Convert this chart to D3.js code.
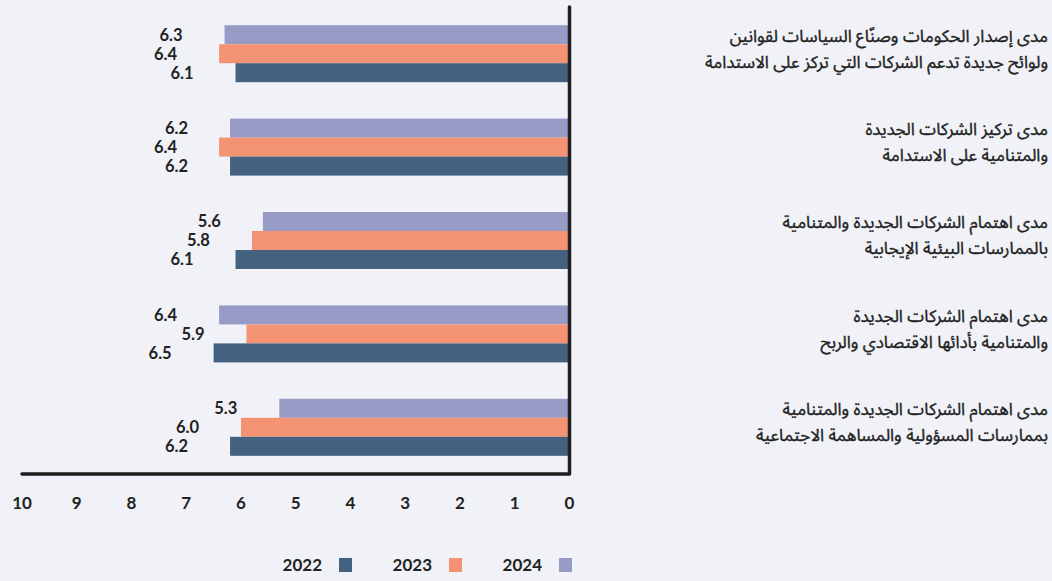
<!DOCTYPE html>
<html>
<head>
<meta charset="utf-8">
<script src="https://cdn.jsdelivr.net/npm/d3@7"></script>
<style>
  body { margin: 0; background: #f0f2f7; }
  svg { display: block; }
  .num { font-family: Lato, "Open Sans", sans-serif; font-weight: 700; fill: #222; }
  .cat { font-family: "Noto Sans Arabic", "DejaVu Sans", sans-serif; fill: #222; stroke: #222; stroke-width: 0.35px; }
</style>
</head>
<body>
<div id="chart"></div>
<script>
const categories = [
    ["مدى إصدار الحكومات وصنّاع السياسات لقوانين", "ولوائح جديدة تدعم الشركات التي تركز على الاستدامة"],
    ["مدى تركيز الشركات الجديدة", "والمتنامية على الاستدامة"],
    ["مدى اهتمام الشركات الجديدة والمتنامية", "بالممارسات البيئية الإيجابية"],
    ["مدى اهتمام الشركات الجديدة", "والمتنامية بأدائها الاقتصادي والربح"],
    ["مدى اهتمام الشركات الجديدة والمتنامية", "بممارسات المسؤولية والمساهمة الاجتماعية"]
];
const years = ["2024", "2023", "2022"];
const values2024 = [6.3, 6.2, 5.6, 6.4, 5.3];
const values2023 = [6.4, 6.4, 5.8, 5.9, 6.0];
const values2022 = [6.1, 6.2, 6.1, 6.5, 6.2];
const xTicks = [0, 1, 2, 3, 4, 5, 6, 7, 8, 9, 10];

const width = 1052, height = 581;
const colors = { "2022": "#44627f", "2023": "#f39374", "2024": "#979bc6" };
const series = { "2024": values2024, "2023": values2023, "2022": values2022 };

const svg = d3.select("#chart").append("svg")
    .attr("width", width)
    .attr("height", height);

const x = d3.scaleLinear().domain([0, 10]).range([569.5, 22]);
const y = d3.scaleBand().domain(d3.range(categories.length)).range([7, 474]);
const barH = 19;
const inner = d3.scaleBand().domain(years)
    .range([y.bandwidth() / 2 - barH * 1.5, y.bandwidth() / 2 + barH * 1.5]);

const group = svg.selectAll(".grp")
    .data(categories)
    .enter().append("g")
    .attr("class", "grp")
    .attr("transform", (d, i) => `translate(0,${y(i)})`);

years.forEach(yr => {
    group.append("rect")
        .attr("x", (d, i) => x(series[yr][i]))
        .attr("y", inner(yr))
        .attr("width", (d, i) => x(0) - x(series[yr][i]))
        .attr("height", inner.bandwidth())
        .attr("fill", colors[yr]);

    group.append("text")
        .attr("class", "num")
        .attr("x", (d, i) => x(series[yr][i]) - 42)
        .attr("y", inner(yr) + inner.bandwidth() / 2)
        .attr("dy", "0.36em")
        .attr("text-anchor", "end")
        .style("font-size", "16.5px")
        .text((d, i) => series[yr][i].toFixed(1));
});

// category labels, one text per line
group.each(function(lines) {
    const g = d3.select(this);
    lines.forEach((ln, k) => {
        g.append("text")
            .attr("class", "cat")
            .attr("text-anchor", "end")
            .style("font-size", "17px")
            .attr("x", 1048)
            .attr("y", y.bandwidth() / 2 - 12 + k * 26)
            .text(ln);
    });
});

// axes
svg.append("path")
    .attr("d", `M${x(10)},${y.range()[1]}H${x(0)}V${y.range()[0]}`)
    .attr("fill", "none")
    .attr("stroke", "#1f1f1f")
    .attr("stroke-width", 3.5)
    .attr("stroke-linecap", "round")
    .attr("stroke-linejoin", "round");

svg.selectAll(".tick")
    .data(xTicks)
    .enter().append("text")
    .attr("class", "num")
    .attr("x", d => x(d))
    .attr("y", 509)
    .attr("text-anchor", "middle")
    .style("font-size", "17px")
    .text(d => d);

// legend
const legendYears = ["2022", "2023", "2024"];
const legX = d3.scalePoint().domain(legendYears).range([339, 559]);
const leg = svg.selectAll(".leg")
    .data(legendYears)
    .enter().append("g")
    .attr("transform", d => `translate(${legX(d)},558)`);
leg.append("rect")
    .attr("width", 13)
    .attr("height", 14)
    .attr("fill", d => colors[d]);
leg.append("text")
    .attr("class", "num")
    .attr("x", -17)
    .attr("y", 13)
    .attr("text-anchor", "end")
    .style("font-size", "17px")
    .text(d => d);
</script>
</body>
</html>
